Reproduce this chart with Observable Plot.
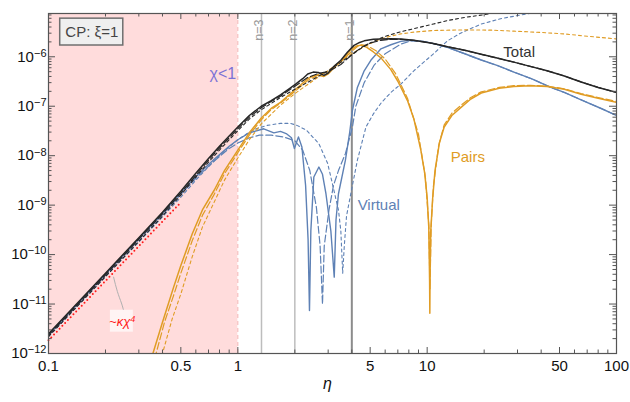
<!DOCTYPE html>
<html><head><meta charset="utf-8">
<script src="https://cdn.jsdelivr.net/npm/d3@7"></script>
<script src="https://cdn.jsdelivr.net/npm/@observablehq/plot@0.6"></script>
<style>body{margin:0;background:#fff;} #chart{width:630px;height:402px;}</style>
</head><body><div id="chart"></div>
<script>
// ---- data: [eta, rate] ----
const totalSolid = [[0.1,2.5e-12],[0.2,4.2e-11],[0.3,2.2e-10],[0.4,7.2e-10],[0.5,1.9e-9],[0.6,4.4e-9],[0.7,8.8e-9],[0.8,1.55e-8],[0.9,2.5e-8],[1.0,3.8e-8],[1.15,6.5e-8],[1.33,1.0e-7],[1.5,1.3e-7],[1.68,1.7e-7],[1.85,2.2e-7],[2.02,2.8e-7],[2.2,3.6e-7],[2.34,4.5e-7],[2.5,4.9e-7],[2.66,4.8e-7],[2.85,4.2e-7],[3.0,4.7e-7],[3.22,6.4e-7],[3.5,8.5e-7],[3.79,1.23e-6],[4.11,1.7e-6],[4.4,1.95e-6],[4.65,2.1e-6],[5.2,2.25e-6],[5.7,2.3e-6],[6.4,2.32e-6],[7.26,2.28e-6],[8.5,2.15e-6],[10.8,1.85e-6],[12.8,1.6e-6],[15.8,1.35e-6],[19.3,1.12e-6],[24,9.2e-7],[28.7,7.8e-7],[35,6.4e-7],[43,5.2e-7],[53,4.1e-7],[65,3.1e-7],[80,2.4e-7],[100,1.9e-7]];
const totalLong = [[0.1,2.35e-12],[0.2,3.9e-11],[0.3,2.05e-10],[0.4,6.7e-10],[0.5,1.75e-9],[0.6,4.0e-9],[0.7,8.1e-9],[0.8,1.43e-8],[0.9,2.3e-8],[1.0,3.5e-8],[1.15,6.0e-8],[1.33,9.3e-8],[1.5,1.25e-7],[1.68,1.6e-7],[2.02,2.6e-7],[2.34,3.8e-7],[2.66,4.6e-7],[3.0,5.0e-7],[3.5,7.0e-7],[4.0,1.1e-6],[4.5,1.55e-6],[5.0,1.9e-6],[5.7,2.15e-6],[6.4,2.25e-6],[7.26,2.25e-6],[8.5,2.15e-6],[10.8,1.85e-6],[12.8,1.6e-6],[15.8,1.35e-6],[19.3,1.12e-6],[24,9.2e-7],[28.7,7.8e-7],[35,6.4e-7],[43,5.2e-7],[53,4.1e-7],[65,3.1e-7],[80,2.4e-7],[100,1.9e-7]];
const totalShort = [[0.1,2.2e-12],[0.2,3.6e-11],[0.3,1.85e-10],[0.4,6.0e-10],[0.5,1.6e-9],[0.6,3.7e-9],[0.7,7.4e-9],[0.8,1.3e-8],[0.9,2.1e-8],[1.0,3.2e-8],[1.15,5.5e-8],[1.33,8.5e-8],[1.68,1.5e-7],[2.0,2.2e-7],[2.5,3.5e-7],[3.0,5.2e-7],[3.63,8.5e-7],[4.0,1.1e-6],[4.5,1.5e-6],[5.0,1.9e-6],[5.7,2.4e-6],[6.4,2.8e-6],[7.26,3.2e-6],[8.5,3.7e-6],[10.8,4.6e-6],[12.8,5.4e-6],[16,6.3e-6],[20,7.1e-6],[25,8.2e-6]];

const pairsSolid = [[0.33,3.9e-13],[0.356,1.0e-12],[0.4,4.3e-12],[0.458,2.2e-11],[0.5,6.0e-11],[0.574,2.6e-10],[0.65,8.0e-10],[0.75,2.0e-9],[0.85,5.0e-9],[1.0,1.3e-8],[1.15,2.9e-8],[1.33,5.8e-8],[1.5,9e-8],[1.68,1.2e-7],[2.02,2.2e-7],[2.34,3.6e-7],[2.5,4.1e-7],[2.66,4.3e-7],[2.85,4.0e-7],[3.0,4.5e-7],[3.22,6.0e-7],[3.6,9.0e-7],[3.95,1.4e-6],[4.28,1.68e-6],[4.5,1.72e-6],[4.8,1.55e-6],[5.2,1.25e-6],[5.7,9.5e-7],[6.43,5.5e-7],[7.0,3.2e-7],[7.87,1.3e-7],[8.5,5.6e-8],[9.26,1.3e-8],[9.7,4.5e-9],[10.0,1.4e-9],[10.2,3.5e-10],[10.3,3e-11],[10.33,6.5e-12],[10.36,4e-11],[10.45,3e-10],[10.68,1.3e-9],[11.0,5e-9],[11.6,1.8e-8],[12.3,3.8e-8],[13.5,6.5e-8],[15.1,9.5e-8],[17,1.4e-7],[19.3,1.85e-7],[24,2.3e-7],[28.7,2.5e-7],[35,2.6e-7],[43,2.5e-7],[53,2.2e-7],[65,1.75e-7],[80,1.45e-7],[100,1.2e-7]];
const pairsLong = [[0.35,5e-13],[0.37,1.0e-12],[0.41,4.3e-12],[0.458,1.5e-11],[0.5,4.2e-11],[0.574,1.9e-10],[0.65,6.2e-10],[0.75,1.65e-9],[0.85,4.3e-9],[1.0,1.15e-8],[1.15,2.6e-8],[1.33,5.3e-8],[1.5,8.5e-8],[1.68,1.15e-7],[2.02,2.05e-7],[2.34,3.3e-7],[2.66,4.3e-7],[3.0,5.0e-7],[3.5,7.8e-7],[4.0,1.3e-6],[4.4,1.75e-6],[4.8,1.7e-6],[5.4,1.3e-6],[6.0,9e-7],[6.8,4.6e-7],[7.87,1.45e-7],[9.0,2.7e-8],[9.8,3.5e-9],[10.2,4e-10],[10.35,2e-11],[10.5,4e-10],[10.8,2.5e-9],[11.5,1.6e-8],[12.3,4.2e-8],[13.5,7.2e-8],[15.1,1.05e-7],[17,1.5e-7],[19.3,1.95e-7],[24,2.4e-7],[28.7,2.6e-7],[35,2.65e-7],[43,2.55e-7],[53,2.25e-7],[65,1.8e-7],[80,1.5e-7],[100,1.25e-7]];
const pairsShort = [[0.38,4e-13],[0.4,1.0e-12],[0.45,5e-12],[0.5,1.6e-11],[0.574,9e-11],[0.65,3.6e-10],[0.75,1.15e-9],[0.85,3.2e-9],[1.0,9e-9],[1.15,2.1e-8],[1.33,4.4e-8],[1.68,1.05e-7],[2.0,1.8e-7],[2.5,3.3e-7],[3.0,5.3e-7],[3.63,9e-7],[4.0,1.15e-6],[4.5,1.5e-6],[5.0,1.85e-6],[5.7,2.3e-6],[6.4,2.6e-6],[7.26,2.9e-6],[8.5,3.15e-6],[10.8,3.4e-6],[15.8,3.5e-6],[22,3.45e-6],[28.7,3.3e-6],[40,3.1e-6],[53,2.9e-6],[70,2.6e-6],[100,2.3e-6]];

const virtSolid = [[0.1,2.4e-12],[0.2,4.0e-11],[0.3,2.1e-10],[0.4,6.8e-10],[0.5,1.75e-9],[0.6,3.8e-9],[0.75,8.5e-9],[0.9,1.55e-8],[1.0,2.1e-8],[1.15,2.9e-8],[1.37,3.5e-8],[1.55,2.9e-8],[1.68,3.1e-8],[1.8,2.8e-8],[1.92,2.3e-8],[1.99,1.4e-8],[2.09,2.4e-8],[2.18,1.5e-8],[2.28,2.5e-9],[2.35,2e-10],[2.39,7.4e-12],[2.43,3e-10],[2.52,3.7e-9],[2.68,5.9e-9],[2.8,4.2e-9],[2.92,1.7e-9],[3.1,3e-10],[3.23,3.5e-11],[3.3,5e-10],[3.4,1.7e-9],[3.7,8.1e-9],[3.9,3e-8],[4.03,8.3e-8],[4.28,2.4e-7],[4.65,5.2e-7],[5.04,8.5e-7],[5.7,1.45e-6],[6.43,1.75e-6],[7.26,2.05e-6],[8.2,2.15e-6],[9.5,2.05e-6],[10.8,1.85e-6],[12.8,1.55e-6],[15.8,1.15e-6],[19.3,8.6e-7],[23.6,6.6e-7],[28.7,4.9e-7],[35.5,3.6e-7],[45,2.4e-7],[53,1.9e-7],[65,1.35e-7],[83,9e-8],[100,6.5e-8]];
const virtLong = [[0.1,2.3e-12],[0.2,3.8e-11],[0.3,2.0e-10],[0.4,6.4e-10],[0.5,1.65e-9],[0.6,3.5e-9],[0.75,7.8e-9],[0.9,1.4e-8],[1.0,1.8e-8],[1.15,2.3e-8],[1.3,2.6e-8],[1.5,2.6e-8],[1.74,2.4e-8],[2.0,2.0e-8],[2.2,1.3e-8],[2.4,5e-9],[2.6,9e-10],[2.72,1.5e-10],[2.8,1e-11],[2.86,1.5e-10],[3.03,8e-10],[3.2,2.5e-9],[3.4,5e-9],[3.7,1.1e-8],[4.03,3.8e-8],[4.2,1.0e-7],[4.65,3.0e-7],[5.25,6.8e-7],[6.0,1.15e-6],[7.26,1.8e-6],[8.2,2.1e-6],[9.5,2.05e-6],[10.8,1.85e-6],[12.8,1.55e-6],[15.8,1.15e-6],[19.3,8.6e-7],[23.6,6.6e-7],[28.7,4.9e-7],[35.5,3.6e-7],[45,2.4e-7],[53,1.9e-7],[65,1.35e-7],[83,9e-8],[100,6.5e-8]];
const virtShort = [[0.1,2.2e-12],[0.2,3.6e-11],[0.3,1.8e-10],[0.4,5.8e-10],[0.5,1.45e-9],[0.6,3.2e-9],[0.7,6e-9],[0.8,1.0e-8],[0.9,1.5e-8],[1.0,2.1e-8],[1.12,2.8e-8],[1.25,3.5e-8],[1.43,4.1e-8],[1.68,4.5e-8],[1.9,4.5e-8],[2.05,4.1e-8],[2.3,3.3e-8],[2.68,1.75e-8],[2.98,7e-9],[3.1,3.7e-9],[3.3,1.3e-9],[3.4,8e-10],[3.5,3e-10],[3.58,4.2e-11],[3.65,1.5e-10],[3.75,6e-10],[3.95,1.7e-9],[4.28,8.1e-9],[4.75,3.8e-8],[5.2,7e-8],[5.7,1.15e-7],[6.43,1.9e-7],[7.26,2.8e-7],[8.5,5.2e-7],[10.8,1.15e-6],[12.8,2.1e-6],[15,3e-6],[19.3,4.6e-6],[25,6.0e-6],[34,7.4e-6],[45,8.8e-6]];

const kappaChi4 = [[0.1,1.85e-12],[0.49,1.05e-9]];
const calloutLine = [[0.2207,3.5e-11],[0.231,1.8e-11],[0.2427,1.05e-11],[0.249,7.5e-12]];

const thresholds = [{eta: 4/3, label: "n=3"}, {eta: 2, label: "n=2"}, {eta: 4, label: "n=1"}];
const chiRegion = [{x1: 0.1, x2: 1}];
const seriesLabels = [
  {text: "Total", eta: 30.6, v: 1.22e-6, color: "#333333"},
  {text: "Pairs", eta: 16.4, v: 9.2e-9, color: "#e09c24"},
  {text: "Virtual", eta: 5.55, v: 9.9e-10, color: "#5e81b5"}
];
const xMajor = [0.1, 0.5, 1, 5, 10, 50, 100];
const xMinor = [0.2,0.3,0.4,0.6,0.7,0.8,0.9,2,3,4,6,7,8,9,20,30,40,60,70,80,90];
const yExponents = [-12,-11,-10,-9,-8,-7,-6];
const yMajor = yExponents.map(e => Math.pow(10, e));
const yMinor = yExponents.flatMap(e => [2,3,4,5,6,7,8,9].map(m => m * Math.pow(10, e))).filter(v => v < 7.5e-6);

const BLACK = "#262626", ORANGE = "#e09c24", BLUE = "#5e81b5";
const rows = arr => arr.map(([eta, v]) => ({eta, v}));
const LONG = "7,3", SHORT = "3,3";
const lineMark = (arr, stroke, dash, w) => Plot.line(rows(arr), {x: "eta", y: "v", stroke, strokeWidth: w, strokeDasharray: dash, clip: true});

const W = 630, H = 402, mL = 48, mR = 14, mT = 13, mB = 49;
const innerW = W - mL - mR, innerH = H - mT - mB;
const sup = {"-":"⁻","0":"⁰","1":"¹","2":"²","3":"³","4":"⁴","5":"⁵","6":"⁶","7":"⁷","8":"⁸","9":"⁹"};

const chart = Plot.plot({
  width: W, height: H,
  marginLeft: mL, marginRight: mR, marginTop: mT, marginBottom: mB,
  style: {fontFamily: "'Liberation Sans', Arial, sans-serif", background: "#fff"},
  x: {type: "log", domain: [0.1, 100], axis: null},
  y: {type: "log", domain: [1e-12, 7.5e-6], axis: null},
  marks: [
    Plot.rect(chiRegion, {x1: "x1", x2: "x2", y1: 1e-12, y2: 7.5e-6, fill: "#ffdcdc"}),
    Plot.ruleX([1], {stroke: "#f4b4b4", strokeDasharray: "4,3", strokeWidth: 1}),
    Plot.ruleX(thresholds, {x: "eta", stroke: d => d.eta === 4 ? "#8c8c8c" : "#bdbdbd", strokeWidth: d => d.eta === 4 ? 2 : 1.5}),
    Plot.text(thresholds, {x: "eta", frameAnchor: "top", text: "label", rotate: -90, textAnchor: "end", dy: 6, dx: -7, fill: "#9a9a9a", fontSize: 12.5}),
    // virtual
    lineMark(virtShort, BLUE, SHORT, 1.1),
    lineMark(virtLong, BLUE, LONG, 1.2),
    lineMark(virtSolid, BLUE, null, 1.4),
    // pairs
    lineMark(pairsShort, ORANGE, SHORT, 1.1),
    lineMark(pairsLong, ORANGE, LONG, 1.2),
    lineMark(pairsSolid, ORANGE, null, 1.5),
    // total
    lineMark(totalShort, BLACK, SHORT, 1.1),
    lineMark(totalLong, BLACK, LONG, 1.2),
    lineMark(totalSolid, BLACK, null, 1.5),
    // kappa chi^4
    Plot.line(rows(kappaChi4), {x: "eta", y: "v", stroke: "#ff1a1a", strokeWidth: 2, strokeDasharray: "0,4", strokeLinecap: "round"}),
    Plot.line(rows(calloutLine), {x: "eta", y: "v", stroke: "#b0b0b0", strokeWidth: 1, curve: "natural"}),
    Plot.rect([{x1: 0.2123, x2: 0.2806, y1: 2.7e-12, y2: 7.5e-12}], {x1: "x1", x2: "x2", y1: "y1", y2: "y2", fill: "#fff4f4"}),
    Plot.text([{t: "~κχ⁴", eta: 0.2450, v: 4.4e-12}], {x: "eta", y: "v", text: "t", fill: "#ff1a1a", fontSize: 13, fontStyle: "italic"}),
    // chi<1
    Plot.text([{t: "χ<1", eta: 0.98, v: 4.6e-7}], {x: "eta", y: "v", text: "t", fill: "#7b72d6", fontSize: 16, textAnchor: "end"}),
    // CP box
    Plot.rect([{x1: 0.1153, x2: 0.2483, y1: 1.69e-6, y2: 5.9e-6}], {x1: "x1", x2: "x2", y1: "y1", y2: "y2", fill: "#efefef", stroke: "#6f6f6f", strokeWidth: 1.5}),
    Plot.text([{t: "CP: ξ=1", eta: 0.1694, v: 3.2e-6}], {x: "eta", y: "v", text: "t", fill: "#444", fontSize: 15}),
    // series labels
    Plot.text(seriesLabels, {x: "eta", y: "v", text: "text", fill: "color", fontSize: 15}),
    // ticks (inward)
    Plot.tickX(xMajor, {x: d => d, stroke: "#555", insetTop: innerH - 6}),
    Plot.tickX(xMajor, {x: d => d, stroke: "#555", insetBottom: innerH - 6}),
    Plot.tickX(xMinor, {x: d => d, stroke: "#555", insetTop: innerH - 3.5}),
    Plot.tickX(xMinor, {x: d => d, stroke: "#555", insetBottom: innerH - 3.5}),
    Plot.tickY(yMajor, {y: d => d, stroke: "#555", insetRight: innerW - 7}),
    Plot.tickY(yMajor, {y: d => d, stroke: "#555", insetLeft: innerW - 7}),
    Plot.tickY(yMinor, {y: d => d, stroke: "#555", insetRight: innerW - 3.5}),
    Plot.tickY(yMinor, {y: d => d, stroke: "#555", insetLeft: innerW - 3.5}),
    // tick labels
    Plot.text(xMajor, {x: d => d, frameAnchor: "bottom", text: d => String(d), lineAnchor: "top", dy: 7, fontSize: 15, fill: "#111"}),
    Plot.text(yMajor, {y: d => d, frameAnchor: "left", text: d => "10" + String(Math.round(Math.log10(d))).split("").map(c => sup[c] || c).join(""), textAnchor: "end", dx: -2, fontSize: 15, fill: "#111", ariaLabel: "ylabels"}),
    Plot.text(["η"], {frameAnchor: "bottom", text: d => d, dy: 35, dx: -5, fontSize: 16, fontStyle: "italic", fill: "#111"}),
    Plot.frame({stroke: "#555", strokeWidth: 1.2})
  ]
});

// superscript exponents as real tspans
const back = {"⁻":"−","⁰":"0","¹":"1","²":"2","³":"3","⁴":"4","⁵":"5","⁶":"6","⁷":"7","⁸":"8","⁹":"9"};
const ns = "http://www.w3.org/2000/svg";
chart.querySelectorAll('text').forEach(t => {
  const s = t.textContent;
  if (/^10[⁻⁰¹²³⁴⁵⁶⁷⁸⁹]+$/.test(s)) {
    const exp = [...s.slice(2)].map(c => back[c] || c).join("");
    t.textContent = "";
    const a = document.createElementNS(ns, "tspan"); a.textContent = "10";
    const b = document.createElementNS(ns, "tspan"); b.textContent = exp;
    b.setAttribute("dy", "-0.45em"); b.setAttribute("font-size", "11");
    t.append(a, b);
  } else if (s === "~κχ⁴") {
    t.textContent = "";
    const a = document.createElementNS(ns, "tspan"); a.textContent = "~κχ";
    const b = document.createElementNS(ns, "tspan"); b.textContent = "4";
    b.setAttribute("dy", "-0.45em"); b.setAttribute("font-size", "9");
    t.append(a, b);
  }
});
document.getElementById("chart").append(chart);
</script>
</body></html>
